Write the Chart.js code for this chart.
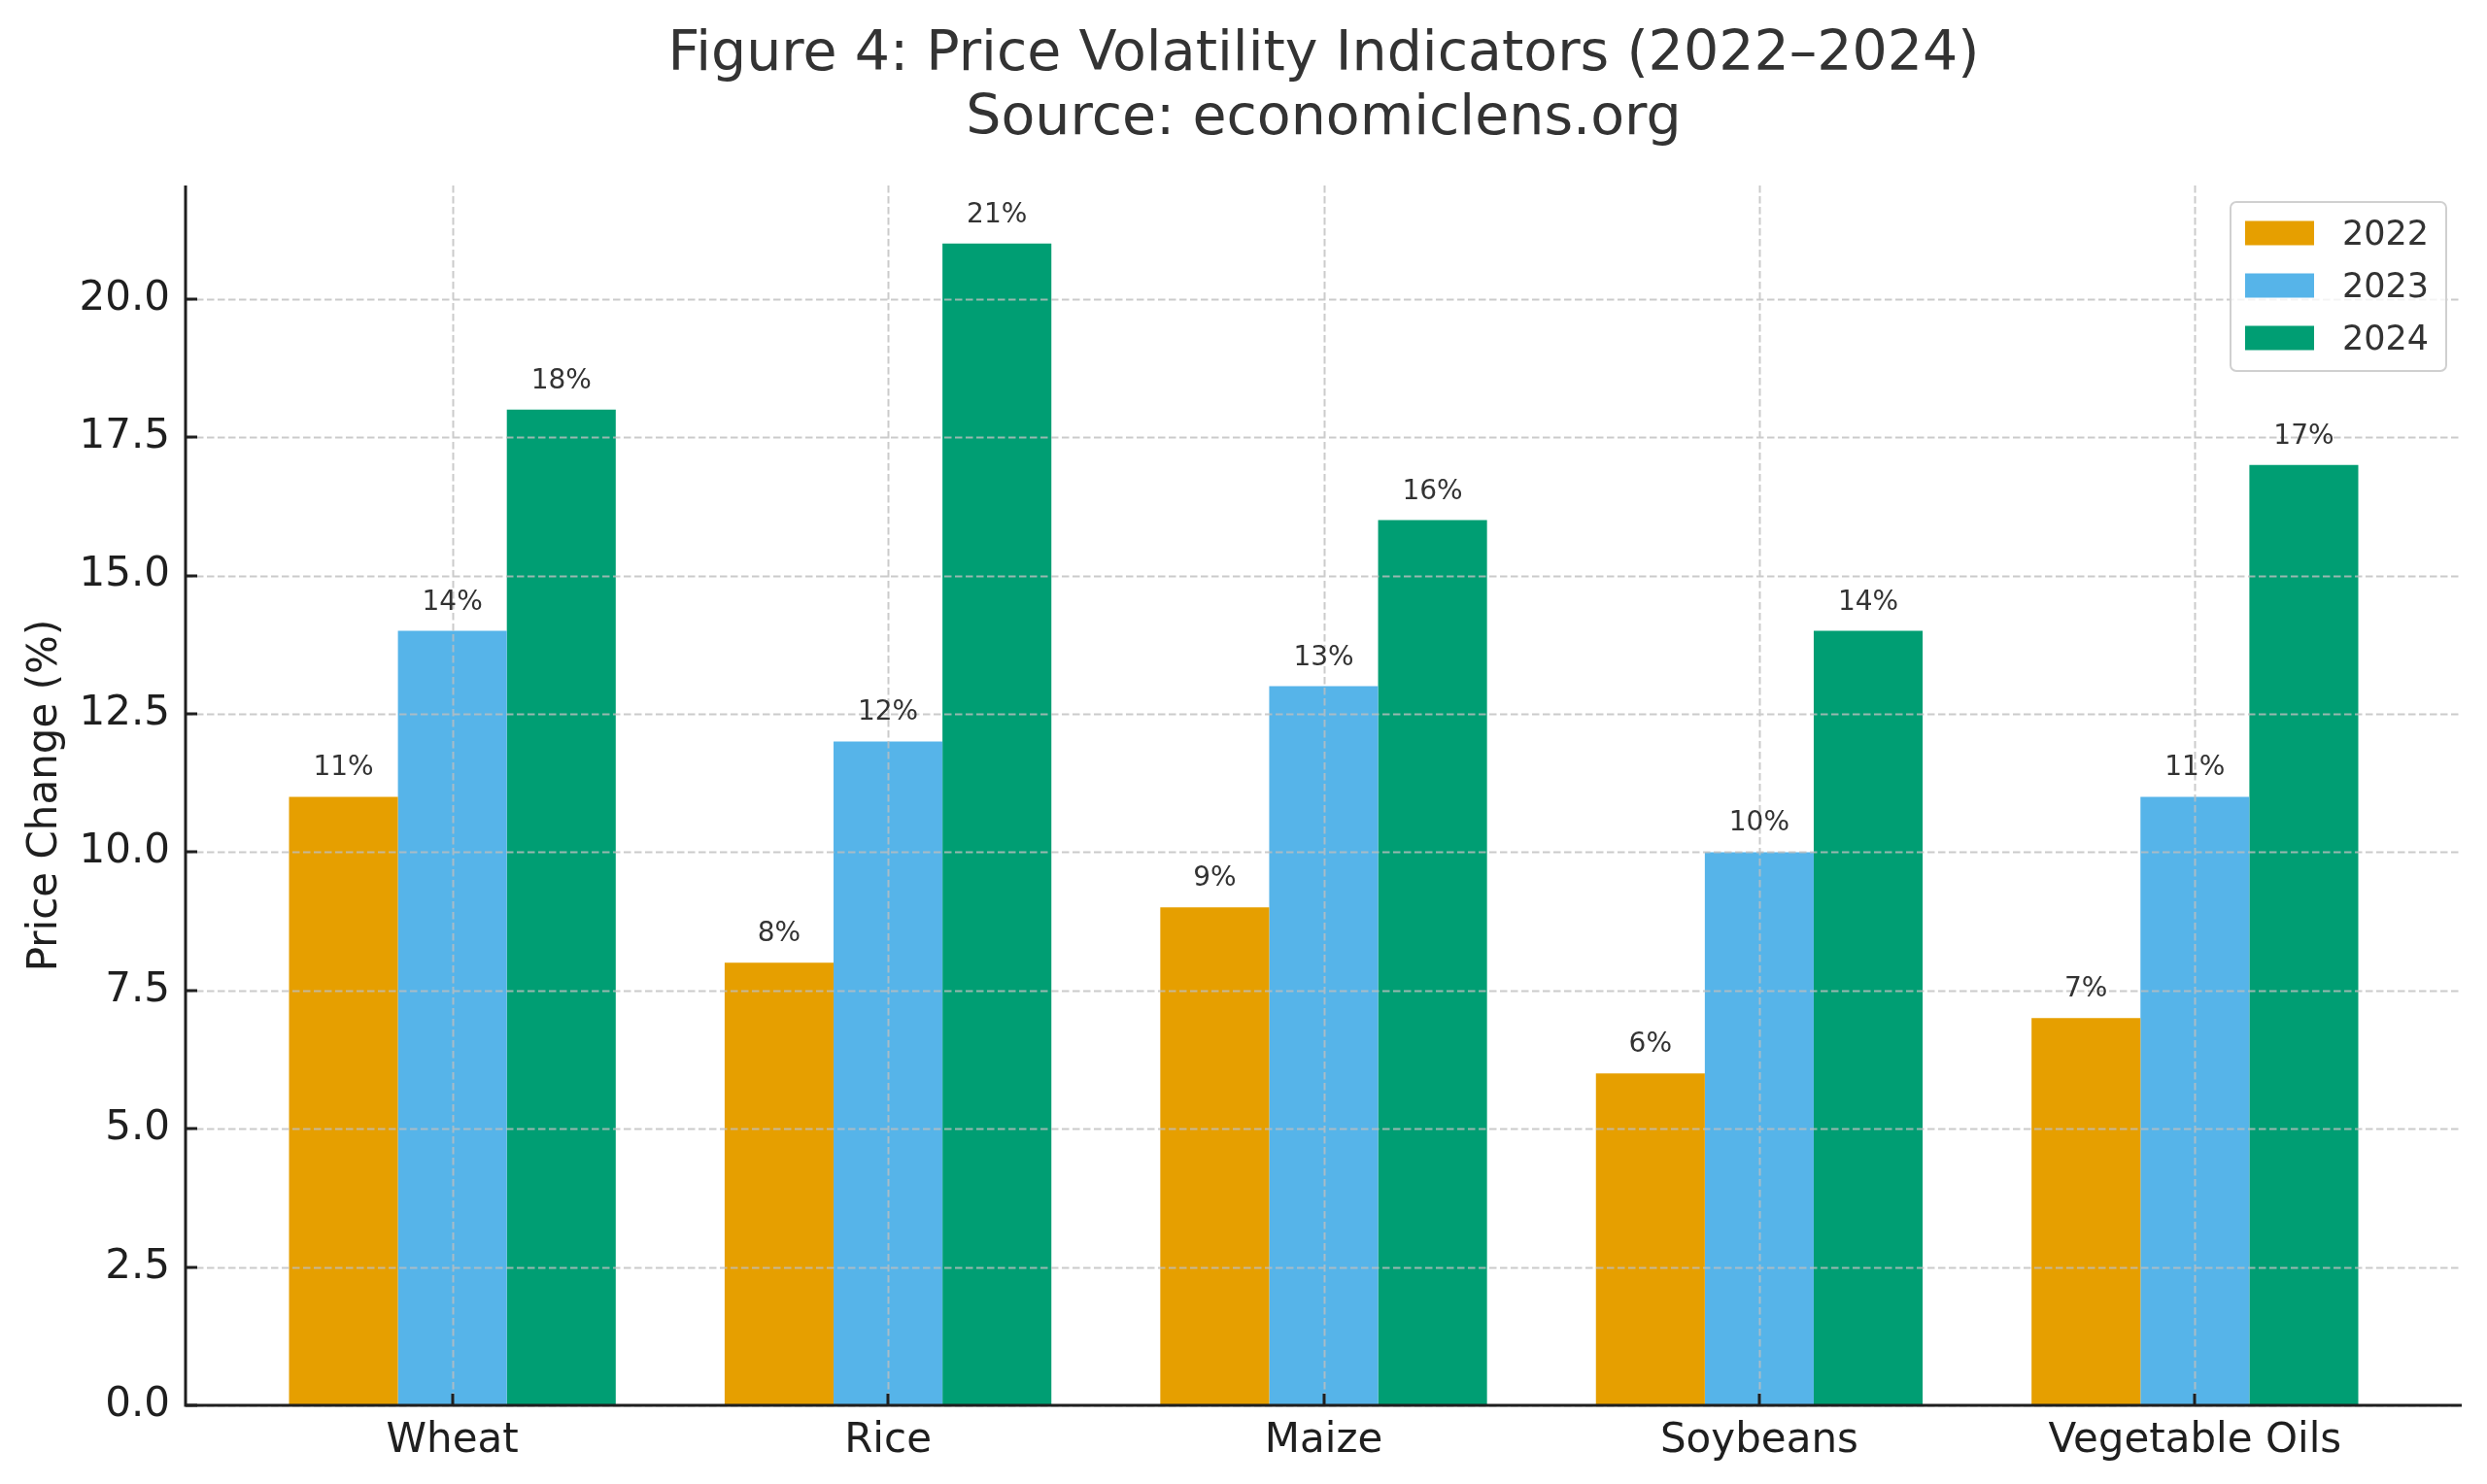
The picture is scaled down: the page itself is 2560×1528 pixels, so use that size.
<!DOCTYPE html>
<html lang="en">
<head>
<meta charset="UTF-8">
<title>Price Volatility Indicators</title>
<script src="https://cdn.jsdelivr.net/npm/chart.js"></script>
<style>
  html, body { margin: 0; padding: 0; background: #fff; }
  #wrap { width: 2560px; height: 1528px; position: relative; }
</style>
</head>
<body>
<div id="wrap"><canvas id="volChart"></canvas></div>
<script>
// values
const commodities = ['Wheat', 'Rice', 'Maize', 'Soybeans', 'Vegetable Oils'];
const years = ['2022', '2023', '2024'];
const change2022 = [11, 8, 9, 6, 7];
const change2023 = [14, 12, 13, 10, 11];
const change2024 = [18, 21, 16, 14, 17];
const yTicks = [0, 2.5, 5, 7.5, 10, 12.5, 15, 17.5, 20];
const yMax = 22.05;
const colors = ['#E69F00', '#56B4E9', '#009E73'];
const titleLines = ['Figure 4: Price Volatility Indicators (2022\u20132024)', 'Source: economiclens.org'];

const FONT = '"DejaVu Sans", "Liberation Sans", sans-serif';

// extra: grid on top of bars, inward ticks, spines, value labels, legend, title
const decorations = {
  id: 'decorations',
  afterDatasetsDraw(chart) {
    const { ctx, chartArea: a, scales: { x, y } } = chart;
    ctx.save();

    // dashed grid
    ctx.strokeStyle = 'rgba(190,190,190,0.8)';
    ctx.lineWidth = 2;
    ctx.setLineDash([7.5, 3.5]);
    ctx.beginPath();
    yTicks.forEach(v => {
      const py = Math.round(y.getPixelForValue(v)) + 0.5;
      ctx.moveTo(a.left, py); ctx.lineTo(a.right, py);
    });
    commodities.forEach((c, i) => {
      const px = Math.round(x.getPixelForValue(i)) + 0.5;
      ctx.moveTo(px, a.top); ctx.lineTo(px, a.bottom);
    });
    ctx.stroke();
    ctx.setLineDash([]);

    // inward ticks
    ctx.strokeStyle = '#1f1f1f';
    ctx.lineWidth = 3;
    ctx.beginPath();
    yTicks.forEach(v => {
      const py = Math.round(y.getPixelForValue(v));
      ctx.moveTo(a.left, py); ctx.lineTo(a.left + 12, py);
    });
    commodities.forEach((c, i) => {
      const px = Math.round(x.getPixelForValue(i));
      ctx.moveTo(px, a.bottom); ctx.lineTo(px, a.bottom - 12);
    });
    ctx.stroke();

    // spines (left + bottom)
    ctx.beginPath();
    ctx.moveTo(a.left, a.top); ctx.lineTo(a.left, a.bottom);
    ctx.lineTo(a.right, a.bottom);
    ctx.stroke();

    // value labels
    ctx.fillStyle = '#333';
    ctx.font = '28px ' + FONT;
    ctx.textAlign = 'center';
    ctx.textBaseline = 'alphabetic';
    chart.data.datasets.forEach((ds, di) => {
      chart.getDatasetMeta(di).data.forEach((bar, i) => {
        ctx.fillText(ds.data[i] + '%', bar.x, bar.y - 22);
      });
    });

    // legend
    const lx = 2296, ly = 208, lw = 222, lh = 174;
    ctx.fillStyle = 'rgba(255,255,255,0.8)';
    ctx.strokeStyle = '#d0d0d0';
    ctx.lineWidth = 2;
    ctx.beginPath();
    ctx.roundRect(lx, ly, lw, lh, 6);
    ctx.fill(); ctx.stroke();
    ctx.font = '35px ' + FONT;
    ctx.textAlign = 'left';
    ctx.textBaseline = 'middle';
    chart.data.datasets.forEach((ds, di) => {
      const cy = 240 + di * 54;
      ctx.fillStyle = ds.backgroundColor;
      ctx.fillRect(lx + 15, cy - 12.5, 71, 25);
      ctx.fillStyle = '#333';
      ctx.fillText(ds.label, lx + 115, cy + 3);
    });

    // title, centred over the axes
    ctx.fillStyle = '#333';
    ctx.font = '57px ' + FONT;
    ctx.textAlign = 'center';
    ctx.textBaseline = 'alphabetic';
    const cx = (a.left + a.right) / 2;
    ctx.fillText(titleLines[0], cx, 72);
    ctx.fillText(titleLines[1], cx, 138);

    ctx.restore();
  }
};

const ctx = document.getElementById('volChart').getContext('2d');
const volChart = new Chart(ctx, {
  type: 'bar',
  data: {
    labels: commodities,
    datasets: [
      { label: years[0], data: change2022, backgroundColor: colors[0] },
      { label: years[1], data: change2023, backgroundColor: colors[1] },
      { label: years[2], data: change2024, backgroundColor: colors[2] }
    ]
  },
  options: {
    responsive: true,
    maintainAspectRatio: false,
    animation: false,
    layout: { padding: { top: 191, right: 26, left: 0, bottom: 0 } },
    datasets: { bar: { categoryPercentage: 0.75, barPercentage: 1.0, borderWidth: 0 } },
    plugins: {
      legend: { display: false },
      title: { display: false },
      tooltip: { enabled: false }
    },
    scales: {
      x: {
        offset: true,
        grid: { display: false, drawTicks: false },
        border: { display: false },
        ticks: { color: '#1f1f1f', font: { family: FONT, size: 42 }, padding: 12, maxRotation: 0 },
        afterBuildTicks(scale) {
          // matplotlib-style 5% margins around the bar groups
          scale._startValue = -0.6125;
          scale._valueRange = 5.225;
        },
        afterFit(scale) { scale.height = 81; }
      },
      y: {
        min: 0,
        max: yMax,
        grid: { display: false, drawTicks: false },
        border: { display: false },
        ticks: {
          color: '#1f1f1f',
          font: { family: FONT, size: 42 },
          padding: 16,
          callback: v => v.toFixed(1)
        },
        afterBuildTicks(scale) { scale.ticks = yTicks.map(v => ({ value: v })); },
        afterFit(scale) { scale.width = 191; },
        title: {
          display: true,
          text: 'Price Change (%)',
          color: '#1f1f1f',
          font: { family: FONT, size: 42 },
          padding: { top: 22, bottom: 0 }
        }
      }
    }
  },
  plugins: [decorations]
});
</script>
</body>
</html>
